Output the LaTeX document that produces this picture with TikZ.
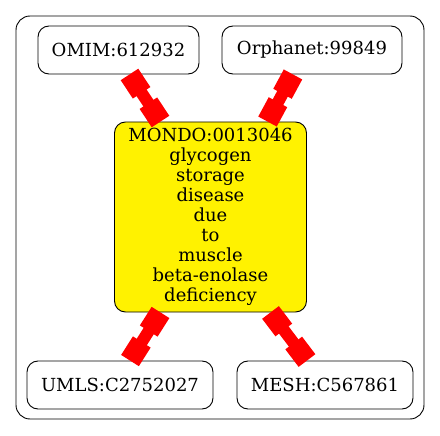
\documentclass[tikz,border=0pt]{standalone}
\usepackage{fontspec}
\setmainfont{DejaVu Serif}
\usetikzlibrary{arrows.meta,calc}
\tikzset{
  term/.style={draw=black, line width=0.9pt, rounded corners=11pt, inner sep=0pt, align=center,
    font=\fontsize{18}{20}\selectfont},
  mondobox/.style={term, fill=yellow},
  link/.style={draw=red, line width=12pt,
    {Square[length=22pt,width=21pt]}-{Square[length=22pt,width=21pt]}},
}
\begin{document}
\begin{tikzpicture}[x=1pt,y=-1pt]
\useasboundingbox (0,0) rectangle (440,436);
\draw[line width=0.9pt, rounded corners=14pt] (16,16) rectangle (424,419);
\node[term, minimum width=161pt, minimum height=48pt] (omim) at (118.5,50) {OMIM:612932};
\node[term, minimum width=180pt, minimum height=48pt] (orph) at (312,50) {Orphanet:99849};
\node[mondobox, minimum width=192pt, minimum height=190pt] (mondo) at (210.5,217)
  {MONDO:0013046\\glycogen\\storage\\disease\\due\\to\\muscle\\beta-enolase\\deficiency};
\node[term, minimum width=186pt, minimum height=48pt] (umls) at (120,385) {UMLS:C2752027};
\node[term, minimum width=176pt, minimum height=48pt] (mesh) at (325,385) {MESH:C567861};
\path[link] ($(omim.south)+(11,0)$) -- ($(mondo.north)+(-50,0)$);
\path[link] ($(orph.south)+(-19,0)$) -- ($(mondo.north)+(57,0)$);
\path[link] ($(mondo.south)+(-50,0)$) -- ($(umls.north)+(10,0)$);
\path[link] ($(mondo.south)+(60,0)$) -- ($(mesh.north)+(-18,0)$);
\end{tikzpicture}
\end{document}
